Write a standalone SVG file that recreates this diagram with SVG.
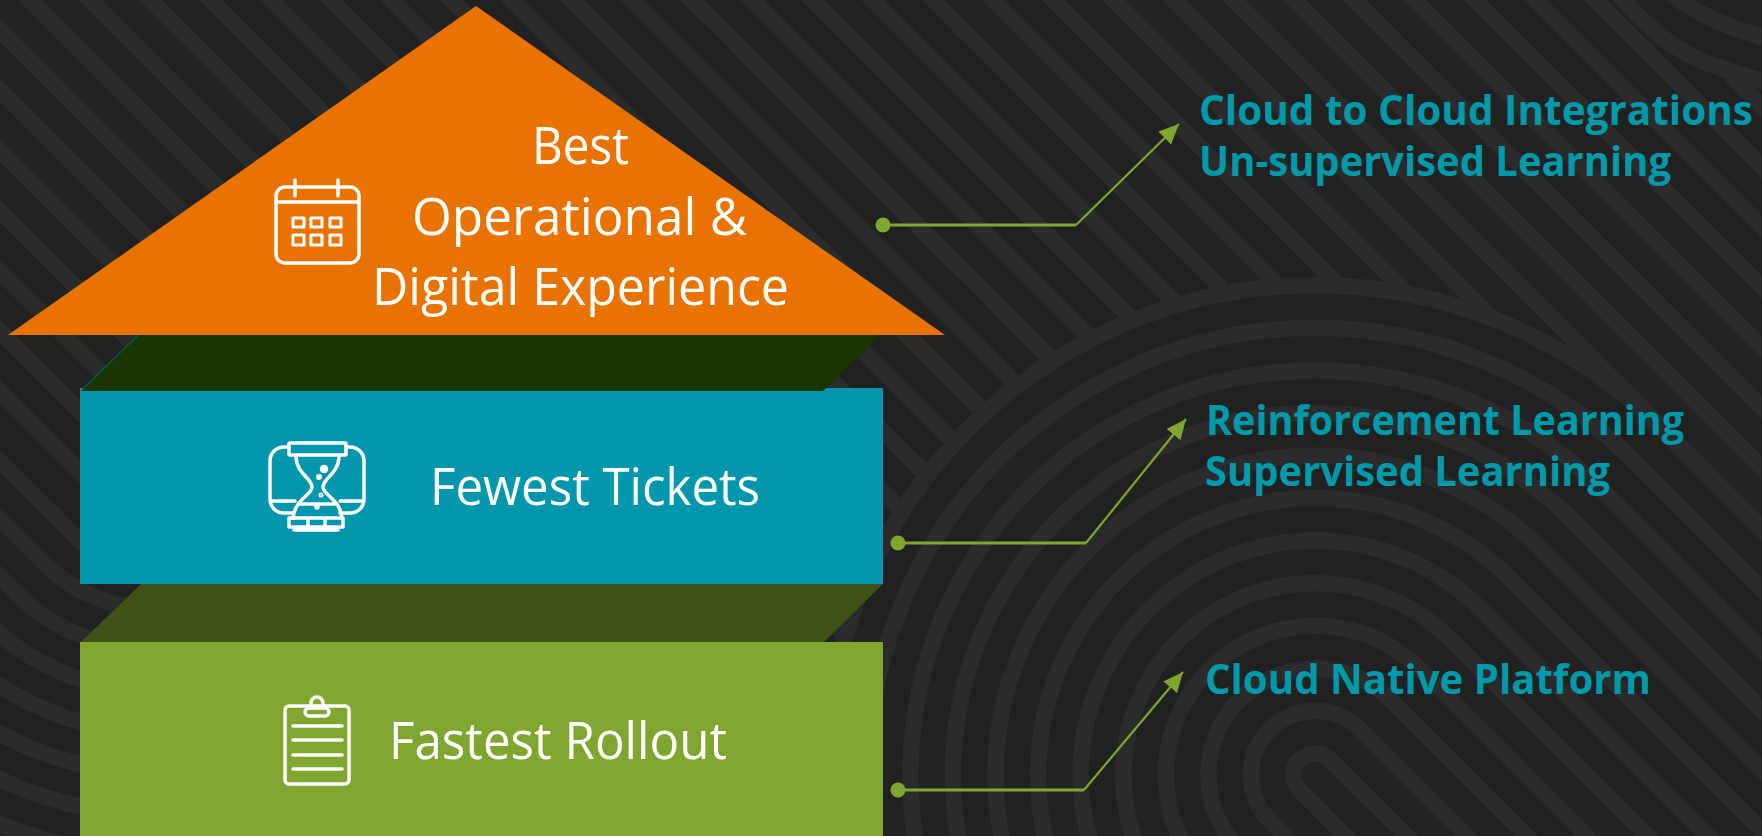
<svg xmlns="http://www.w3.org/2000/svg" width="1762" height="836" viewBox="0 0 1762 836">
<style>
.band{fill:none;stroke:#2b2b2b;stroke-width:16.5}
.ico{fill:none;stroke:#fff;stroke-width:3.5;stroke-linecap:round;stroke-linejoin:round}
.main{font-family:"Open Sans","Liberation Sans",sans-serif;font-weight:400;font-size:51px;fill:#fff}
.side{font-family:"Open Sans","Liberation Sans",sans-serif;font-weight:700;font-size:41px;fill:#0099a9}
.wire{fill:none;stroke:#7fa72f;stroke-width:2.2}
.run{fill:none;stroke:#7fa72f;stroke-width:3}
.dot{fill:#7fa72f}
</style>
<defs>
<marker id="arrow" markerUnits="userSpaceOnUse" markerWidth="24" markerHeight="20" refX="20" refY="9" orient="auto">
<path d="M0 0L20 9L0 18Z" fill="#7fa72f"/>
</marker>
<clipPath id="outside">
<path transform="translate(1315 775) rotate(45)" clip-rule="evenodd" d="M-3000-3000H3000V3000H-3000ZM3000 496H0A496 496 0 0 1 0-496H3000Z"/>
</clipPath>
</defs>
<rect id="background" width="1762" height="836" fill="#212121"/>
<g id="pattern">
<g clip-path="url(#outside)">
<path class="band" transform="rotate(45)" d="M0 276.8H1900M0 234.2H1900M0 191.6H1900M0 149.1H1900M0 106.5H1900M0 63.9H1900M0 21.4H1900M0-21.2H1900M0-63.8H1900M0-106.3H1900M0-148.9H1900M0-191.5H1900M0-234.1H1900M0-276.6H1900M0-319.2H1900M0-361.8H1900M0-404.3H1900M0-446.9H1900M0-489.5H1900M0-532H1900M0-574.6H1900M0-617.2H1900M0-659.7H1900M0-702.3H1900M0-744.9H1900M0-787.5H1900M0-830H1900M0-872.6H1900M0-915.2H1900M0-957.7H1900M0-1000.3H1900M0-1042.9H1900M0-1085.5H1900M0-1128H1900M1277-1170.6H1900"/>
<path class="band" d="M1665-10Q1710 25 1775 40M1615-10Q1660 45 1707 63T1780 84"/>
</g>
<g transform="translate(1315 775) rotate(45)">
<path class="band" d="M1300 21.5H0A21.5 21.5 0 0 1 0-21.5H1300M1300 64.1H0A64.1 64.1 0 0 1 0-64.1H1300M1300 106.6H0A106.6 106.6 0 0 1 0-106.6H1300M1300 149.2H0A149.2 149.2 0 0 1 0-149.2H1300M1300 191.8H0A191.8 191.8 0 0 1 0-191.8H1300M1300 234.4H0A234.4 234.4 0 0 1 0-234.4H1300M1300 276.9H0A276.9 276.9 0 0 1 0-276.9H1300M1300 319.5H0A319.5 319.5 0 0 1 0-319.5H1300M1300 362.1H0A362.1 362.1 0 0 1 0-362.1H1300M1300 404.6H0A404.6 404.6 0 0 1 0-404.6H1300M1300 447.2H0A447.2 447.2 0 0 1 0-447.2H1300M1300 489.8H0A489.8 489.8 0 0 1 0-489.8H1300"/>
</g>
<g transform="translate(150 461) rotate(45)">
<path class="band" d="M-900 106H0A106 106 0 0 0 106 0M-900 147H0A147 147 0 0 0 147 0M-900 188H0A188 188 0 0 0 188 0M-900 229H0A229 229 0 0 0 229 0M-900 270H0A270 270 0 0 0 270 0M-900 311H0A311 311 0 0 0 311 0M-900 352H0A352 352 0 0 0 352 0M-900 393H0A393 393 0 0 0 393 0M-900 434H0A434 434 0 0 0 434 0"/>
</g>
</g>
<g id="connectors">
<path class="run" d="M890 225H1076"/>
<path class="wire" d="M1076 225L1179 124" marker-end="url(#arrow)"/>
<circle class="dot" cx="883" cy="225" r="7.5"/>
<path class="run" d="M905 543H1086"/>
<path class="wire" d="M1086 543L1186 419" marker-end="url(#arrow)"/>
<circle class="dot" cx="898" cy="543" r="7.5"/>
<path class="run" d="M905 790H1084"/>
<path class="wire" d="M1084 790L1183 672" marker-end="url(#arrow)"/>
<circle class="dot" cx="898" cy="790" r="7.5"/>
</g>
<g id="node-fastest-rollout">
<path d="M141 584H883L823 643H80Z" fill="#415218"/>
<rect x="80" y="642" width="803" height="194" fill="#7fa72f"/>
<g class="ico">
<rect x="285" y="706" width="64" height="78" rx="4"/>
<path d="M311 708V703A6 6 0 0 1 323 703V708"/>
<rect x="305" y="708" width="24" height="8" rx="4"/>
<path d="M293 726H342M293 740H342M293 755H342M293 769H342"/>
</g>
<text class="main" x="389" y="759" textLength="338" lengthAdjust="spacingAndGlyphs">Fastest Rollout</text>
</g>
<g id="node-fewest-tickets">
<rect x="80" y="388" width="803" height="196" fill="#0097ac"/>
<path d="M138 335H880L823 391H81Z" fill="#193500"/>
<path d="M81 391L138 335" fill="none" stroke="#005a66" stroke-width="1.2"/>
<g class="ico">
<path d="M289 447H284A14 14 0 0 0 270 461V499A14 14 0 0 0 284 513H293M346 447H350A14 14 0 0 1 364 461V499A14 14 0 0 1 350 513H340M270 501H295M340 501H364"/>
<rect x="289" y="443" width="57" height="12" rx="1"/>
<path d="M296 456C296 474 312 478 312 487C312 495 295 499 293 518M339 456C339 474 323 478 323 487C323 495 340 499 342 518"/>
<path d="M300 504H335"/>
<path d="M289 518H343V527H289ZM308 518V527M325 518V527M294 530H338"/>
<circle cx="324" cy="469" r="2.5" fill="#fff"/>
<circle cx="319" cy="477" r="1.2" fill="#fff"/>
<circle cx="321" cy="495" r="0.8" fill="#fff"/>
<circle cx="317" cy="507" r="1" fill="#fff"/>
</g>
<text class="main" x="430" y="505" textLength="330" lengthAdjust="spacingAndGlyphs">Fewest Tickets</text>
</g>
<g id="node-best-experience">
<path d="M476 6L945 335H8Z" fill="#e97300"/>
<g class="ico">
<rect x="276" y="187" width="83" height="76" rx="9"/>
<path d="M276 202H359M295 180V196M338 180V196"/>
<path stroke-width="3" d="M293 218H304V227H293ZM311 218H322V227H311ZM330 218H341V227H330ZM293 235H304V245H293ZM311 235H322V245H311ZM330 235H341V245H330Z"/>
</g>
<text class="main" x="532" y="164" textLength="97" lengthAdjust="spacingAndGlyphs">Best</text>
<text class="main" x="412" y="235" textLength="335" lengthAdjust="spacingAndGlyphs">Operational &amp;</text>
<text class="main" x="372" y="305" textLength="417" lengthAdjust="spacingAndGlyphs">Digital Experience</text>
</g>
<g id="label-top">
<text class="side" x="1199" y="125" textLength="554" lengthAdjust="spacingAndGlyphs">Cloud to Cloud Integrations</text>
<text class="side" x="1199" y="176" textLength="472" lengthAdjust="spacingAndGlyphs">Un-supervised Learning</text>
</g>
<g id="label-middle">
<text class="side" x="1206" y="435" textLength="478" lengthAdjust="spacingAndGlyphs">Reinforcement Learning</text>
<text class="side" x="1205" y="486" textLength="405" lengthAdjust="spacingAndGlyphs">Supervised Learning</text>
</g>
<g id="label-bottom">
<text class="side" x="1205" y="694" textLength="446" lengthAdjust="spacingAndGlyphs">Cloud Native Platform</text>
</g>
</svg>
